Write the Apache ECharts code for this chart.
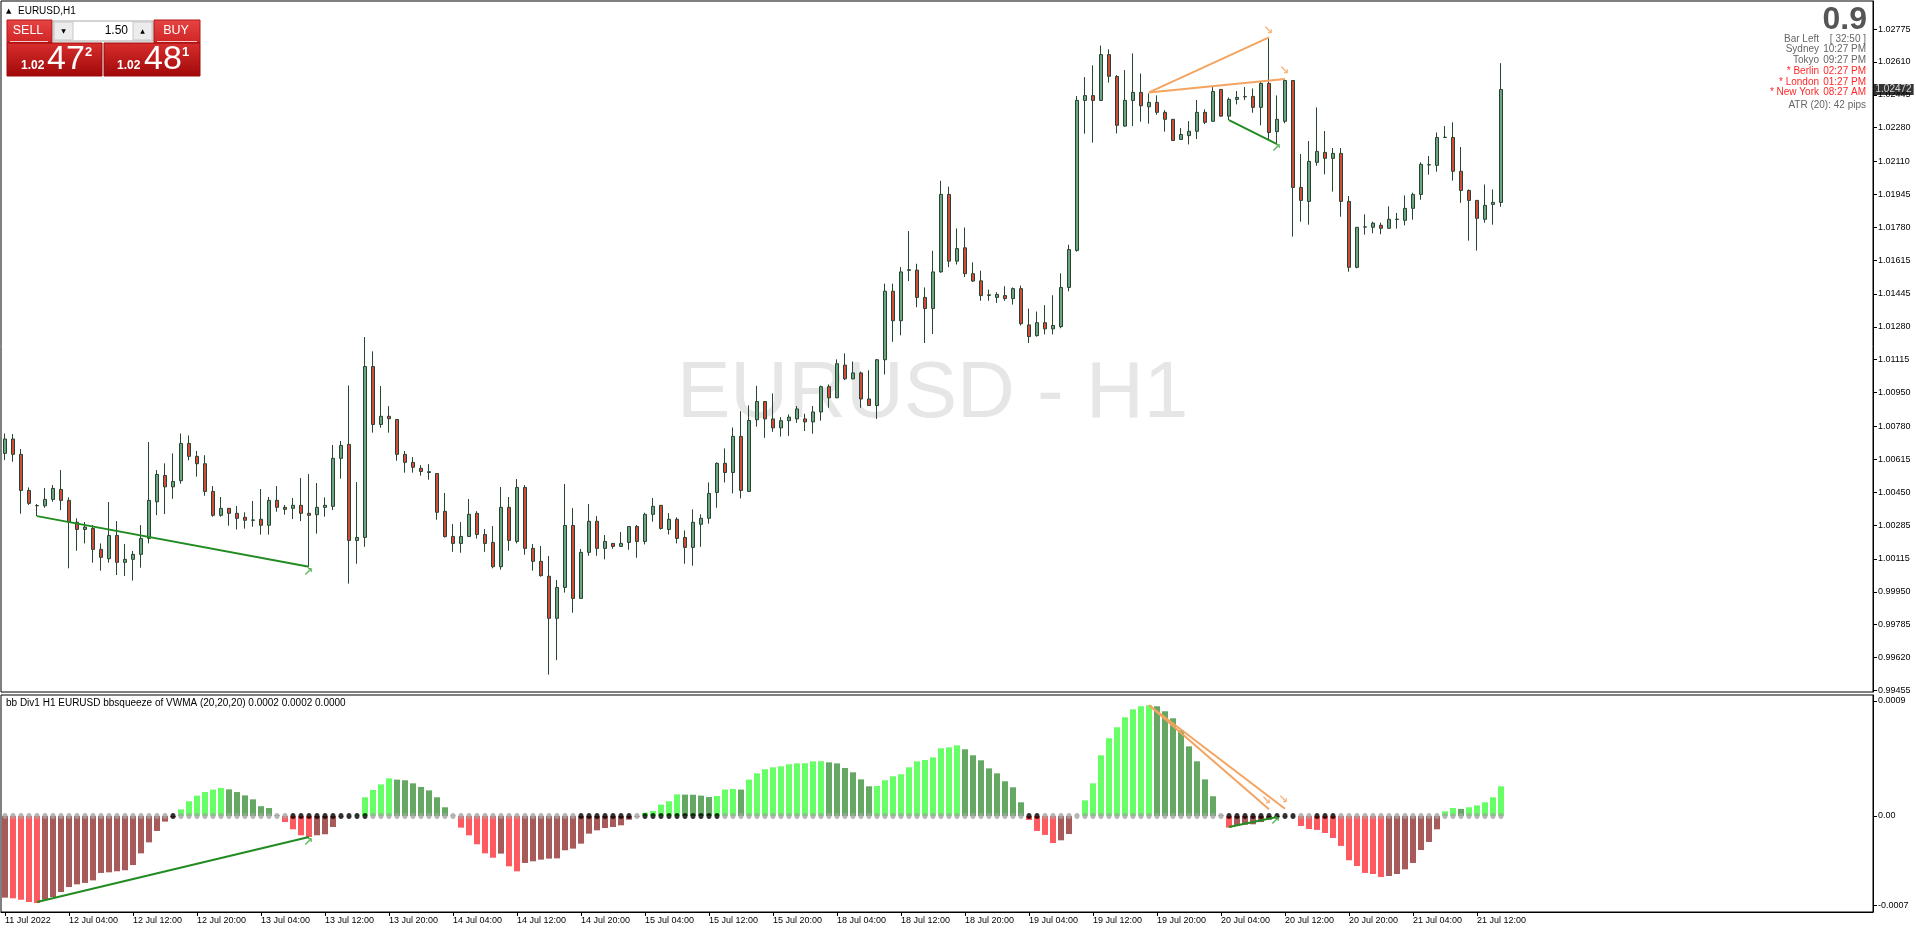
<!DOCTYPE html>
<html><head><meta charset="utf-8">
<script src="https://cdn.jsdelivr.net/npm/echarts@6/dist/echarts.min.js"></script>
<style>html,body{margin:0;padding:0;background:#fff;overflow:hidden}#c{width:1916px;height:933px}</style>
</head><body><div id="c"></div>
<script>
// ---------- DATA ----------
const dayNames = ['11 Jul','12 Jul','13 Jul','14 Jul','15 Jul','18 Jul','19 Jul','20 Jul','21 Jul'];
const firstHour = 20, lastHour = 15;
const tickLabels = ['11 Jul 2022','12 Jul 04:00','12 Jul 12:00','12 Jul 20:00','13 Jul 04:00','13 Jul 12:00','13 Jul 20:00','14 Jul 04:00','14 Jul 12:00','14 Jul 20:00','15 Jul 04:00','15 Jul 12:00','15 Jul 20:00','18 Jul 04:00','18 Jul 12:00','18 Jul 20:00','19 Jul 04:00','19 Jul 12:00','19 Jul 20:00','20 Jul 04:00','20 Jul 12:00','20 Jul 20:00','21 Jul 04:00','21 Jul 12:00'];
const priceTicks = ['1.02775','1.02610','1.02445','1.02280','1.02110','1.01945','1.01780','1.01615','1.01445','1.01280','1.01115','1.00950','1.00780','1.00615','1.00450','1.00285','1.00115','0.99950','0.99785','0.99620','0.99455'];
const histTicks = ['0.0009','0.00','-0.0007'];

const open = [1.00645,1.00717,1.00640,1.00459,1.00383,1.00382,1.00414,1.00464,1.00409,1.00299,1.00263,1.00268,1.00163,1.00116,1.00233,1.00098,1.00113,1.00138,1.00218,1.00402,
1.00534,1.00477,1.00508,1.00695,1.00630,1.00593,1.00454,1.00334,1.00369,1.00344,1.00324,1.00311,1.00314,1.00284,1.00409,1.00374,1.00369,1.00384,1.00344,1.00337,
1.00374,1.00379,1.00620,1.00690,1.00208,1.00223,1.01081,1.00790,1.00831,1.00815,1.00640,1.00600,1.00570,1.00553,1.00544,1.00354,1.00228,1.00193,1.00228,1.00344,
1.00238,1.00198,1.00076,1.00374,1.00203,1.00474,1.00168,1.00103,1.00028,0.99817,0.99972,1.00283,0.99917,1.00148,1.00304,1.00168,1.00193,1.00178,1.00198,1.00278,
1.00203,1.00339,1.00384,1.00263,1.00314,1.00223,1.00173,1.00289,1.00319,1.00449,1.00595,1.00549,1.00730,1.00454,1.00814,1.00905,1.00818,1.00773,1.00809,1.00818,
1.00818,1.00803,1.00853,1.00980,1.00924,1.01088,1.01019,1.01049,1.00918,1.00885,1.01115,1.01459,1.01311,1.01564,1.01565,1.01428,1.01372,1.01556,1.01945,1.01610,
1.01677,1.01547,1.01511,1.01441,1.01428,1.01437,1.01422,1.01472,1.01290,1.01236,1.01301,1.01270,1.01281,1.01478,1.01664,1.02417,1.02441,1.02417,1.02647,1.02537,
1.02288,1.02417,1.02457,1.02385,1.02407,1.02357,1.02322,1.02221,1.02240,1.02262,1.02357,1.02312,1.02472,1.02338,1.02422,1.02436,1.02437,1.02382,1.02502,1.02260,
1.02312,1.02517,1.01980,1.01910,1.02106,1.02156,1.02126,1.02151,1.01910,1.01579,1.01781,1.01780,1.01790,1.01775,1.01819,1.01815,1.01875,1.01945,1.02094,1.02091,
1.02231,1.02231,1.02061,1.01965,1.01915,1.01820,1.01895,1.01905];
const high = [1.00745,1.00742,1.00667,1.00474,1.00391,1.00471,1.00486,1.00561,1.00424,1.00319,1.00300,1.00285,1.00193,1.00401,1.00305,1.00190,1.00155,1.00285,1.00702,1.00561,
1.00595,1.00645,1.00745,1.00735,1.00657,1.00636,1.00481,1.00426,1.00370,1.00381,1.00349,1.00406,1.00466,1.00426,1.00481,1.00386,1.00421,1.00521,1.00541,1.00496,
1.00424,1.00687,1.00707,1.00986,1.00501,1.01229,1.01157,1.00983,1.00882,1.00817,1.00657,1.00626,1.00586,1.00591,1.00546,1.00446,1.00290,1.00300,1.00416,1.00355,
1.00265,1.00280,1.00476,1.00426,1.00516,1.00486,1.00190,1.00180,1.00130,1.00009,1.00491,1.00370,1.00165,1.00391,1.00330,1.00235,1.00195,1.00250,1.00280,1.00285,
1.00347,1.00421,1.00385,1.00345,1.00324,1.00258,1.00364,1.00339,1.00499,1.00600,1.00670,1.00775,1.00857,1.00886,1.00984,1.00907,1.00946,1.00827,1.00840,1.00883,
1.00844,1.00883,1.00985,1.00991,1.01117,1.01147,1.01106,1.01056,1.01062,1.01119,1.01497,1.01497,1.01580,1.01761,1.01597,1.01478,1.01662,1.02013,1.01984,1.01774,
1.01779,1.01604,1.01562,1.01467,1.01454,1.01484,1.01478,1.01487,1.01372,1.01357,1.01389,1.01439,1.01549,1.01692,1.02439,1.02534,1.02593,1.02692,1.02673,1.02544,
1.02569,1.02653,1.02552,1.02452,1.02442,1.02368,1.02323,1.02278,1.02313,1.02419,1.02372,1.02486,1.02474,1.02432,1.02464,1.02484,1.02477,1.02514,1.02728,1.02442,
1.02519,1.02519,1.02148,1.02213,1.02382,1.02263,1.02178,1.02178,1.01937,1.01781,1.01845,1.01808,1.01803,1.01885,1.01852,1.01940,1.01954,1.02106,1.02138,1.02256,
1.02288,1.02307,1.02183,1.01970,1.01916,1.01995,1.01970,1.02604];
const low = [1.00611,1.00603,1.00342,1.00386,1.00330,1.00372,1.00402,1.00360,1.00068,1.00156,1.00193,1.00096,1.00056,1.00096,1.00034,1.00029,1.00006,1.00071,1.00193,1.00335,
1.00340,1.00417,1.00493,1.00610,1.00528,1.00432,1.00327,1.00327,1.00282,1.00263,1.00267,1.00277,1.00237,1.00237,1.00352,1.00337,1.00315,1.00305,1.00076,1.00242,
1.00327,1.00360,1.00518,0.99991,1.00091,1.00176,1.00749,1.00774,1.00749,1.00608,1.00548,1.00548,1.00533,1.00513,1.00312,1.00223,1.00151,1.00146,1.00226,1.00217,
1.00151,1.00068,1.00061,1.00156,1.00193,1.00136,1.00056,1.00026,0.99534,0.99607,0.99946,0.99845,0.99916,1.00131,1.00131,1.00113,1.00166,1.00175,1.00161,1.00121,
1.00188,1.00302,1.00262,1.00238,1.00193,1.00091,1.00081,1.00176,1.00292,1.00372,1.00499,1.00444,1.00419,1.00453,1.00779,1.00723,1.00753,1.00729,1.00733,1.00798,
1.00757,1.00744,1.00809,1.00874,1.00922,1.01013,1.01017,1.00874,1.00883,1.00818,1.01041,1.01205,1.01238,1.01510,1.01379,1.01199,1.01244,1.01552,1.01580,1.01593,
1.01530,1.01506,1.01411,1.01411,1.01400,1.01411,1.01392,1.01287,1.01199,1.01231,1.01242,1.01242,1.01273,1.01459,1.01658,1.02250,1.02205,1.02415,1.02506,1.02251,
1.02285,1.02288,1.02310,1.02300,1.02345,1.02260,1.02215,1.02220,1.02196,1.02223,1.02298,1.02310,1.02335,1.02318,1.02397,1.02419,1.02355,1.02292,1.02223,1.02201,
1.02302,1.01733,1.01808,1.01793,1.02089,1.02046,1.01959,1.01833,1.01557,1.01574,1.01743,1.01750,1.01745,1.01774,1.01773,1.01790,1.01818,1.01918,1.02044,1.02059,
1.02229,1.02014,1.01903,1.01713,1.01663,1.01803,1.01793,1.01883];
const close = [1.00717,1.00640,1.00459,1.00394,1.00382,1.00414,1.00469,1.00409,1.00299,1.00263,1.00275,1.00163,1.00123,1.00233,1.00098,1.00113,1.00138,1.00218,1.00409,1.00539,
1.00477,1.00504,1.00695,1.00630,1.00593,1.00454,1.00334,1.00369,1.00344,1.00319,1.00309,1.00309,1.00284,1.00409,1.00374,1.00364,1.00384,1.00344,1.00334,1.00374,
1.00384,1.00620,1.00685,1.00208,1.00223,1.01081,1.00790,1.00831,1.00819,1.00640,1.00600,1.00575,1.00554,1.00549,1.00349,1.00227,1.00193,1.00228,1.00339,1.00238,
1.00193,1.00076,1.00374,1.00208,1.00474,1.00168,1.00103,1.00031,0.99817,0.99972,1.00283,0.99917,1.00148,1.00304,1.00168,1.00203,1.00178,1.00193,1.00278,1.00203,
1.00339,1.00379,1.00268,1.00314,1.00218,1.00173,1.00299,1.00319,1.00444,1.00595,1.00549,1.00730,1.00459,1.00810,1.00905,1.00818,1.00773,1.00809,1.00827,1.00868,
1.00803,1.00853,1.00980,1.00924,1.01095,1.01019,1.01049,1.00918,1.00885,1.01115,1.01459,1.01311,1.01556,1.01567,1.01428,1.01372,1.01556,1.01945,1.01610,1.01673,
1.01547,1.01510,1.01437,1.01438,1.01443,1.01422,1.01472,1.01296,1.01231,1.01301,1.01270,1.01287,1.01478,1.01668,1.02417,1.02441,1.02417,1.02647,1.02538,1.02292,
1.02417,1.02457,1.02390,1.02407,1.02357,1.02322,1.02216,1.02246,1.02262,1.02357,1.02307,1.02462,1.02338,1.02422,1.02432,1.02435,1.02382,1.02502,1.02256,1.02322,
1.02517,1.01980,1.01915,1.02111,1.02161,1.02126,1.02151,1.01910,1.01579,1.01780,1.01782,1.01801,1.01775,1.01820,1.01821,1.01875,1.01945,1.02096,1.02093,1.02231,
1.02232,1.02061,1.01965,1.01915,1.01825,1.01890,1.01905,1.02472];

const hist = [-0.000638,-0.000643,-0.000654,-0.000672,-0.000680,-0.000654,-0.000633,-0.000594,-0.000555,-0.000534,-0.000523,-0.000503,-0.000445,-0.000440,-0.000432,-0.000424,-0.000383,-0.000292,-0.000206,-0.000117,
-0.000044,-0.000010,0.000052,0.000115,0.000159,0.000187,0.000206,0.000219,0.000208,0.000187,0.000161,0.000130,0.000076,0.000062,0.000005,-0.000047,-0.000104,-0.000151,-0.000164,-0.000151,
-0.000143,-0.000086,-0.000004,-0.000002,0.000004,0.000146,0.000203,0.000247,0.000294,0.000284,0.000279,0.000255,0.000227,0.000200,0.000146,0.000068,0.000003,-0.000091,-0.000151,-0.000221,
-0.000292,-0.000326,-0.000294,-0.000393,-0.000432,-0.000367,-0.000354,-0.000341,-0.000333,-0.000331,-0.000268,-0.000255,-0.000216,-0.000138,-0.000112,-0.000094,-0.000086,-0.000073,-0.000029,-0.000005,
0.000026,0.000039,0.000089,0.000115,0.000169,0.000167,0.000166,0.000159,0.000148,0.000156,0.000206,0.000211,0.000206,0.000284,0.000333,0.000365,0.000380,0.000388,0.000404,0.000411,
0.000412,0.000427,0.000428,0.000419,0.000411,0.000375,0.000341,0.000286,0.000232,0.000234,0.000279,0.000310,0.000326,0.000380,0.000427,0.000437,0.000458,0.000529,0.000536,0.000552,
0.000521,0.000474,0.000435,0.000372,0.000333,0.000271,0.000224,0.000107,-0.000031,-0.000117,-0.000148,-0.000211,-0.000190,-0.000141,0.000002,0.000122,0.000255,0.000474,0.000607,0.000693,
0.000771,0.000833,0.000857,0.000865,0.000857,0.000818,0.000763,0.000669,0.000544,0.000427,0.000286,0.000154,0.000005,-0.000091,-0.000073,-0.000068,-0.000065,-0.000047,-0.000029,-0.000008,
-0.000003,-0.000002,-0.000078,-0.000102,-0.000109,-0.000133,-0.000172,-0.000234,-0.000346,-0.000391,-0.000445,-0.000453,-0.000477,-0.000469,-0.000453,-0.000417,-0.000367,-0.000266,-0.000203,-0.000104,
0.000036,0.000062,0.000055,0.000068,0.000083,0.000107,0.000146,0.000232];
const squeezeRanges = [[21,21],[36,45],[72,78],[80,89],[128,129],[153,161],[164,166]];

const mainGreen1 = [[4,1.00330],[38,1.00076]];
const mainGreen2 = [[153,1.02318],[159,1.02198]];
const mainOrange1 = [[143,1.02457],[158,1.02733]];
const mainOrange2 = [[143,1.02457],[160,1.02524]];
const histGreen1 = [[4,-0.000672],[38,-0.000164]];
const histGreen2 = [[153,-0.000086],[159,-0.000008]];
const histOrange1 = [[143,0.000865],[158,0.000052]];
const histOrange2 = [[143,0.000865],[160,0.000057]];

const infoLabels = ['Bar Left','Sydney','Tokyo','* Berlin','* London','* New York'];
const infoValues = ['[ 32:50 ]','10:27 PM','09:27 PM','02:27 PM','01:27 PM','08:27 AM'];
const infoRed = [false,false,false,true,true,true];

// ---------- BUILD ----------
const categories = [];
dayNames.forEach((d,k)=>{
  const h0 = k===0?firstHour:0, h1 = k===dayNames.length-1?lastHour:23;
  for(let h=h0;h<=h1;h++) categories.push(d+' '+String(h).padStart(2,'0')+':00');
});
const SLOTS = 234;
const axisCats = categories.concat(Array.from({length:SLOTS-categories.length},(_,i)=>'pad'+i));
const lastLabelIdx = (tickLabels.length-1)*8;
const tickFn = (idx)=> idx%8===0 && idx<=lastLabelIdx;

const FONT = 'Liberation Sans, Arial, sans-serif';
const LG='#66ff66', DG='#64a864', LR='#ff5a5f', DR='#a85a5a';
function histColor(i){
  const v=hist[i], p=i>0?hist[i-1]:null;
  if(v>=0) return (p===null||v>=p)?LG:DG;
  return (p!==null && v<p)?LR:DR;
}
const sq = hist.map((_,i)=>squeezeRanges.some(r=>i>=r[0]&&i<=r[1])?1:0);
const priceVals = priceTicks.map(Number);
const histVals = histTicks.map(Number);

function lineSeries(data,color,xi){
  return {type:'line',xAxisIndex:xi,yAxisIndex:xi,data:data,symbol:'none',silent:true,
    lineStyle:{color:color,width:2},z:6,animation:false};
}
function arrowSeries(pt,glyph,color,off,xi){
  return {type:'scatter',xAxisIndex:xi,yAxisIndex:xi,data:[pt],symbolSize:1,silent:true,
    itemStyle:{color:'rgba(0,0,0,0)'},z:7,
    label:{show:true,position:'inside',formatter:glyph,color:color,fontSize:12,fontWeight:'bold',fontFamily:'DejaVu Sans',offset:off}};
}

const lastPrice = close[close.length-1];
const chart = echarts.init(document.getElementById('c'),null,{renderer:'canvas'});
const redGrad = (a,b)=>new echarts.graphic.LinearGradient(0,0,0,1,[{offset:0,color:a},{offset:1,color:b}]);

const graphics = [
  {type:'text',z:-10,x:677,y:395,style:{text:'EURUSD - H1',font:'80px '+FONT,fill:'#e6e6e6',textVerticalAlign:'middle'}},
  {type:'text',z:50,x:6,y:11,style:{text:'▲',font:'7px DejaVu Sans',fill:'#000',textVerticalAlign:'middle'}},
  {type:'text',z:50,x:18,y:11,style:{text:'EURUSD,H1',font:'10px '+FONT,fill:'#000',textVerticalAlign:'middle'}},
  // trade panel
  {type:'rect',z:50,shape:{x:7,y:20,width:45,height:23},style:{fill:redGrad('#e64444','#cf2424'),stroke:'#b51818',lineWidth:1}},
  {type:'rect',z:51,shape:{x:10,y:41,width:38,height:1},style:{fill:'rgba(255,255,255,0.75)'}},
  {type:'text',z:52,x:28,y:31,style:{text:'SELL',font:'12.5px '+FONT,fill:'#fff',textAlign:'center',textVerticalAlign:'middle'}},
  {type:'rect',z:50,shape:{x:53,y:21,width:100,height:20},style:{fill:'#fff',stroke:'#a8a8a8',lineWidth:1}},
  {type:'rect',z:51,shape:{x:54,y:22,width:19,height:18},style:{fill:'#ececec',stroke:'#c8c8c8',lineWidth:1}},
  {type:'rect',z:51,shape:{x:133,y:22,width:19,height:18},style:{fill:'#ececec',stroke:'#c8c8c8',lineWidth:1}},
  {type:'text',z:52,x:63.5,y:31,style:{text:'▼',font:'6px DejaVu Sans',fill:'#000',textAlign:'center',textVerticalAlign:'middle'}},
  {type:'text',z:52,x:142.5,y:31,style:{text:'▲',font:'6px DejaVu Sans',fill:'#000',textAlign:'center',textVerticalAlign:'middle'}},
  {type:'text',z:52,x:128,y:31,style:{text:'1.50',font:'12px '+FONT,fill:'#000',textAlign:'right',textVerticalAlign:'middle'}},
  {type:'rect',z:50,shape:{x:154,y:20,width:46,height:23},style:{fill:redGrad('#e64444','#cf2424'),stroke:'#b51818',lineWidth:1}},
  {type:'rect',z:51,shape:{x:157,y:41,width:40,height:1},style:{fill:'rgba(255,255,255,0.75)'}},
  {type:'text',z:52,x:176,y:31,style:{text:'BUY',font:'12.5px '+FONT,fill:'#fff',textAlign:'center',textVerticalAlign:'middle'}},
  {type:'rect',z:50,shape:{x:7,y:43,width:95,height:33},style:{fill:redGrad('#d92e2e','#a00808'),stroke:'#9a0a0a',lineWidth:1}},
  {type:'rect',z:50,shape:{x:104,y:43,width:96,height:33},style:{fill:redGrad('#d92e2e','#a00808'),stroke:'#9a0a0a',lineWidth:1}},
  {type:'text',z:52,x:21,y:66,style:{text:'1.02',font:'bold 12px '+FONT,fill:'#fff',textVerticalAlign:'middle'}},
  {type:'text',z:52,x:47,y:60,style:{text:'47',font:'34px '+FONT,fill:'#fff',textVerticalAlign:'middle'}},
  {type:'text',z:52,x:85,y:52,style:{text:'2',font:'bold 13px '+FONT,fill:'#fff',textVerticalAlign:'middle'}},
  {type:'text',z:52,x:117,y:66,style:{text:'1.02',font:'bold 12px '+FONT,fill:'#fff',textVerticalAlign:'middle'}},
  {type:'text',z:52,x:144,y:60,style:{text:'48',font:'34px '+FONT,fill:'#fff',textVerticalAlign:'middle'}},
  {type:'text',z:52,x:182,y:52,style:{text:'1',font:'bold 13px '+FONT,fill:'#fff',textVerticalAlign:'middle'}},
  // info block
  {type:'text',z:50,x:1867,y:20,style:{text:'0.9',font:'bold 32px '+FONT,fill:'#555',textAlign:'right',textVerticalAlign:'middle'}},
  {type:'text',z:50,x:1866,y:105,style:{text:'ATR (20): 42 pips',font:'10px '+FONT,fill:'#666',textAlign:'right',textVerticalAlign:'middle'}},
  // indicator title
  {type:'text',z:50,x:6,y:703,style:{text:'bb Div1 H1 EURUSD bbsqueeze of VWMA (20,20,20) 0.0002 0.0002 0.0000',font:'10px '+FONT,fill:'#000',textVerticalAlign:'middle'}}
];
infoLabels.forEach((t,k)=>{
  const y = 39 + k*10.7, col = infoRed[k]?'#ff2828':'#666';
  graphics.push({type:'text',z:50,x:1819,y:y,style:{text:t,font:'10px '+FONT,fill:col,textAlign:'right',textVerticalAlign:'middle'}});
  graphics.push({type:'text',z:50,x:1866,y:y,style:{text:infoValues[k],font:'10px '+FONT,fill:col,textAlign:'right',textVerticalAlign:'middle'}});
});

const option = {
  animation:false,
  backgroundColor:'#fff',
  grid:[
    {left:1,top:1,width:8*SLOTS,height:691,show:true,borderColor:'#000',borderWidth:1},
    {left:1,top:695,width:8*SLOTS,height:217,show:true,borderColor:'#000',borderWidth:1}
  ],
  xAxis:[
    {type:'category',gridIndex:0,data:axisCats,boundaryGap:true,axisLine:{show:false,onZero:false},axisTick:{show:false},axisLabel:{show:false},splitLine:{show:false}},
    {type:'category',gridIndex:1,data:axisCats,boundaryGap:true,position:'bottom',
      axisLine:{show:true,onZero:false,lineStyle:{color:'#000',width:1}},
      axisTick:{show:true,alignWithLabel:true,interval:tickFn,length:4,lineStyle:{color:'#000'}},
      axisLabel:{show:true,interval:tickFn,align:'left',margin:4,color:'#000',fontSize:9,fontFamily:FONT,
        formatter:(v,idx)=>tickLabels[Math.round(idx/8)]||''},
      splitLine:{show:false}}
  ],
  yAxis:[
    {type:'value',gridIndex:0,position:'right',min:0.99447,max:1.02916,
      axisLine:{show:true,lineStyle:{color:'#000'}},
      axisTick:{show:true,length:4,customValues:priceVals,lineStyle:{color:'#000'}},
      axisLabel:{show:true,customValues:priceVals,margin:5,color:'#000',fontSize:9,fontFamily:FONT,
        formatter:(v)=>{const k=priceVals.findIndex(p=>Math.abs(p-v)<1e-7);return k>=0?priceTicks[k]:'';}},
      splitLine:{show:false}},
    {type:'value',gridIndex:1,position:'right',min:-0.00075,max:0.000945,
      axisLine:{show:true,lineStyle:{color:'#000'}},
      axisTick:{show:true,length:4,customValues:histVals,lineStyle:{color:'#000'}},
      axisLabel:{show:true,customValues:histVals,margin:5,color:'#000',fontSize:9,fontFamily:FONT,
        formatter:(v)=>{const k=histVals.findIndex(p=>Math.abs(p-v)<1e-9);return k>=0?histTicks[k]:'';}},
      splitLine:{show:false}}
  ],
  series:[
    {type:'candlestick',xAxisIndex:0,yAxisIndex:0,barWidth:4,silent:true,
      data:open.map((o,i)=>[o,close[i],low[i],high[i]]),
      itemStyle:{color:'#6aa37e',color0:'#d5483a',borderColor:'#264632',borderColor0:'#264632',borderWidth:1}},
    {type:'scatter',xAxisIndex:0,yAxisIndex:0,silent:true,symbolSize:1,z:20,
      itemStyle:{color:'rgba(0,0,0,0)'},
      data:[[SLOTS-1,lastPrice]],
      label:{show:true,position:'right',distance:4,formatter:()=>lastPrice.toFixed(5),backgroundColor:'#000',color:'#fff',
        padding:[1,2,0,2],fontSize:10,fontFamily:FONT}},
    lineSeries(mainGreen1,'#228b22',0),
    lineSeries(mainGreen2,'#228b22',0),
    lineSeries(mainOrange1,'#f4a460',0),
    lineSeries(mainOrange2,'#f4a460',0),
    arrowSeries(mainGreen1[1],'↗','#3aa83a',[-1,6],0),
    arrowSeries(mainGreen2[1],'↗','#3aa83a',[-1,5],0),
    arrowSeries(mainOrange1[1],'↘','#f4a460',[-1,-7],0),
    arrowSeries(mainOrange2[1],'↘','#f4a460',[-1,-8],0),
    {type:'bar',xAxisIndex:1,yAxisIndex:1,barWidth:6,silent:true,
      data:hist.map((v,i)=>({value:v,itemStyle:{color:histColor(i)}}))},
    {type:'scatter',xAxisIndex:1,yAxisIndex:1,symbol:'circle',symbolSize:[5,6],silent:true,z:4,
      data:hist.map((v,i)=>({value:[i,0],itemStyle:{color:sq[i]?'#000':'#a4a4a4'}}))},
    lineSeries(histGreen1,'#228b22',1),
    lineSeries(histGreen2,'#228b22',1),
    lineSeries(histOrange1,'#f4a460',1),
    lineSeries(histOrange2,'#f4a460',1),
    arrowSeries(histGreen1[1],'↗','#3aa83a',[-1,6],1),
    arrowSeries(histGreen2[1],'↗','#3aa83a',[-2,5],1),
    arrowSeries(histOrange1[1],'↘','#f4a460',[-3,-8],1),
    arrowSeries(histOrange2[1],'↘','#f4a460',[-2,-9],1)
  ],
  graphic:{elements:graphics}
};
chart.setOption(option);
</script></body></html>
